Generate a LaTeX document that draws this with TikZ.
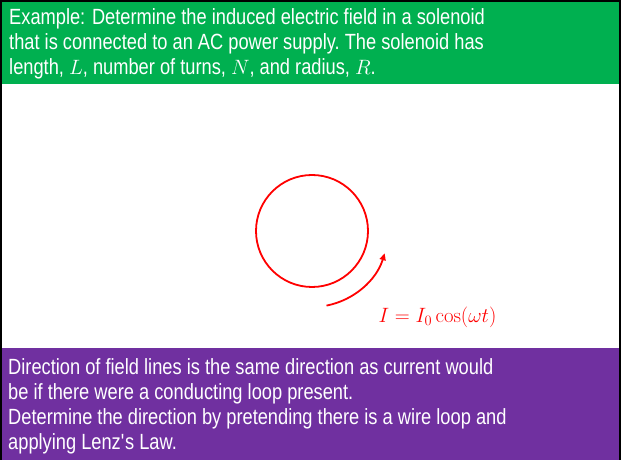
\documentclass[tikz,border=0pt]{standalone}
\usepackage[no-math]{fontspec}
\setmainfont[FakeStretch=0.83]{Liberation Sans}
\usetikzlibrary{arrows.meta}

\definecolor{bandgreen}{RGB}{0,176,80}
\definecolor{bandpurple}{RGB}{112,48,160}

\begin{document}
\begin{tikzpicture}[x=1pt,y=1pt,
  bandtext/.style={anchor=base west,inner sep=0pt,align=left,text=white,
    font=\fontsize{22}{25}\selectfont}]
\useasboundingbox (0,0) rectangle (621,460);
\fill[white] (0,0) rectangle (621,460);
% bands
\fill[bandgreen] (2,376) rectangle (619,458);
\fill[bandpurple] (2,0) rectangle (619,112);
\draw[line width=2pt] (1,0) -- (1,459) -- (620,459) -- (620,0);
% anchor is the baseline of the last line
\node[bandtext] (title) at (9,385) {Example: Determine the induced electric field in a solenoid\\
that is connected to an AC power supply.\ The solenoid has\\
length, $L$, number of turns, $N$, and radius, $R$.};
\node[bandtext] (note) at (8,10) {Direction of field lines is the same direction as current would\\
be if there were a conducting loop present.\\
Determine the direction by pretending there is a wire loop and\\
applying Lenz\textquotesingle s Law.};
% loop and current
\draw[red,line width=1.8pt] (312,229) circle (56);
\coordinate (center) at (312,229);
\draw[red,line width=1.8pt,-{Triangle[length=7pt,width=6pt]}] (center) ++(-79:76) arc (-79:-17:76);
\node[red,font=\fontsize{22}{26}\selectfont] (current) at (437.5,143) {$I=I_0\cos(\omega t)$};
\end{tikzpicture}
\end{document}
